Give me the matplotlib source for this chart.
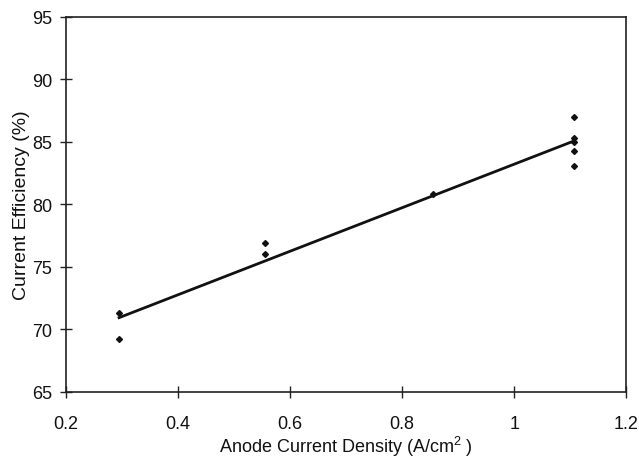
import numpy as np
import matplotlib
matplotlib.use("Agg")
import matplotlib.pyplot as plt

plt.rcParams['font.family'] = ['Liberation Sans', 'DejaVu Sans']
plt.rcParams['mathtext.fontset'] = 'custom'
plt.rcParams['mathtext.rm'] = 'Liberation Sans'
plt.rcParams['mathtext.it'] = 'Liberation Sans'

current_density = [0.295, 0.295, 0.555, 0.555, 0.856, 1.107, 1.107, 1.107, 1.107, 1.107]
efficiency = [71.3, 69.2, 76.9, 76.0, 80.8, 87.0, 85.3, 85.0, 84.3, 83.1]
x_ticks = [0.2, 0.4, 0.6, 0.8, 1.0, 1.2]
x_tick_labels = ['0.2', '0.4', '0.6', '0.8', '1', '1.2']
y_ticks = [65, 70, 75, 80, 85, 90, 95]

fig = plt.figure(figsize=(6.39, 4.60), dpi=100)
ax = fig.add_axes([0.103, 0.146, 0.877, 0.815])

x = np.array(current_density)
y = np.array(efficiency)
slope, intercept = np.polyfit(x, y, 1)
xl = np.array([x.min(), x.max()])
ax.plot(xl, slope * xl + intercept, color='#111111', lw=2.0, zorder=2)
ax.plot(x, y, linestyle='none', marker='D', markersize=3.0, color='#111111', zorder=3)

ax.set_xlim(0.2, 1.2)
ax.set_ylim(65, 95)
ax.set_xticks(x_ticks)
ax.set_xticklabels(x_tick_labels)
ax.set_yticks(y_ticks)

for s in ax.spines.values():
    s.set_color('#222222')
    s.set_linewidth(1.2)

ax.tick_params(axis='both', direction='inout', length=8, width=1.0, color='#222222',
               labelsize=13, labelcolor='#111111')
ax.tick_params(axis='x', pad=13)
ax.tick_params(axis='y', pad=6)
ax.tick_params(top=False, right=False)

ax.set_xlabel('Anode Current Density (A/cm$^2$ )', fontsize=13, color='#111111', labelpad=1)
ax.set_ylabel('Current Efficiency (%)', fontsize=14, color='#111111', labelpad=1)

fig.savefig('out.png', dpi=100)
